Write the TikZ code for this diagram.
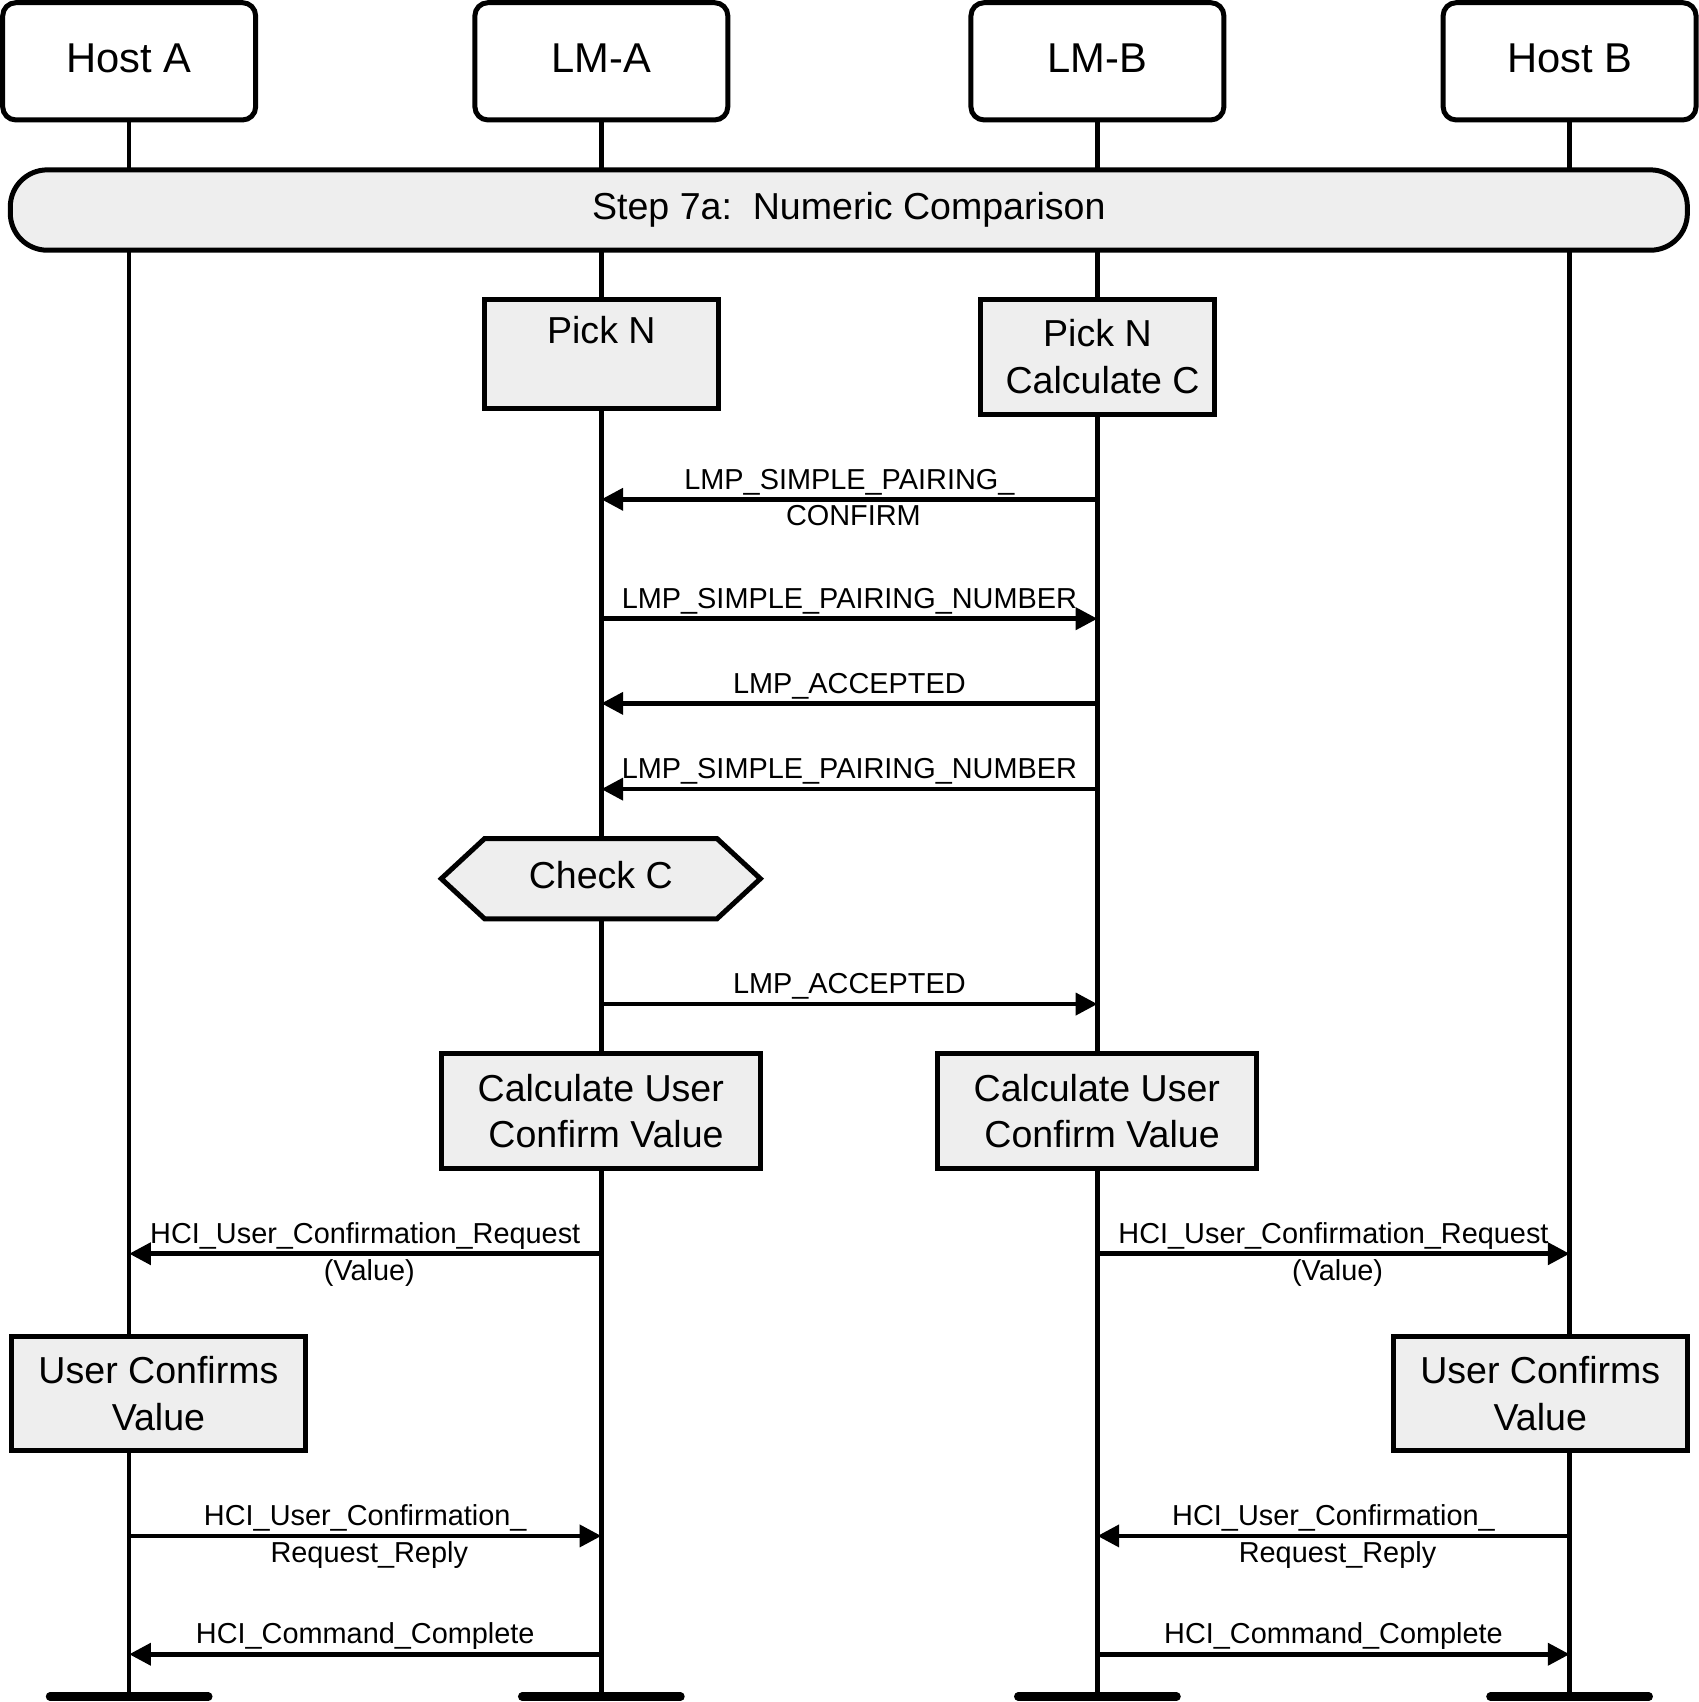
\documentclass[tikz,border=0pt]{standalone}
\usepackage{fontspec}
\setmainfont{Liberation Sans}
\usetikzlibrary{arrows.meta,calc,backgrounds}
\definecolor{boxfill}{RGB}{238,238,238}
\begin{document}
\begin{tikzpicture}[x=0.5pt,y=-0.5pt,
  hdr/.style={draw, line width=2.3pt, rounded corners=6pt, fill=white,
    minimum width=116.5pt, minimum height=54pt, inner sep=0pt,
    font=\fontsize{19.2}{21.5}\selectfont, text height=10.3pt, text depth=0pt},
  act/.style={draw, line width=2.3pt, fill=boxfill, inner sep=0pt, align=center,
    font=\fontsize{17.3}{21.5}\selectfont},
  life/.style={line width=2pt},
  msg/.style={line width=2.1pt, -{Triangle[length=10pt,width=10pt]}},
  lab/.style={font=\fontsize{13.3}{15}\selectfont, inner sep=0pt, anchor=base},
  endbar/.style={line width=3.8pt, line cap=round}
]
\useasboundingbox (0,0) rectangle (1565,1568);

% headers
\node[hdr] (hA) at (119,56.5) {Host A};
\node[hdr] (lA) at (554,56.5) {LM-A};
\node[hdr] (lB) at (1011,56.5) {LM-B};
\node[hdr] (hB) at (1446,56.5) {Host B};

% ends of lifelines
\coordinate (eA) at (119,1563);
\coordinate (eLA) at (554,1563);
\coordinate (eLB) at (1011,1563);
\coordinate (eB) at (1446,1563);

\begin{scope}[on background layer]
  \draw[life] (hA.south) -- (eA);
  \draw[life] (lA.south) -- (eLA);
  \draw[life] (lB.south) -- (eLB);
  \draw[life] (hB.south) -- (eB);
\end{scope}

\foreach \e in {eA,eLA,eLB,eB}
  \draw[endbar] ([xshift=-36.5pt]\e) -- ([xshift=36.5pt]\e);

% step bar
\node[draw, line width=2.3pt, rounded corners=17pt, fill=boxfill,
  minimum width=772.5pt, minimum height=37pt, inner sep=0pt,
  font=\fontsize{17.3}{20}\selectfont, text height=8.9pt, text depth=0pt]
  (step) at (782,193.5) {Step 7a:\ \ Numeric Comparison};

% action boxes
\node[act, minimum width=107.5pt, minimum height=50.5pt] (pnA) at (554,326) {Pick N\\\phantom{C}};
\node[act, minimum width=107.5pt, minimum height=53pt] (pnB) at (1011,328.5) {Pick N\\\hspace*{4.8pt}Calculate C};

% check C hexagon
\node[inner sep=0pt, outer sep=0pt, minimum width=147pt, minimum height=37pt,
  font=\fontsize{17.3}{20}\selectfont, text height=8.9pt, text depth=0pt]
  (chk) at (553.5,809.5) {Check C};
\begin{scope}[on background layer]
  \draw[line width=2.3pt, fill=boxfill, line join=miter]
    (chk.west) -- ([xshift=20pt]chk.north west) -- ([xshift=-20pt]chk.north east)
    -- (chk.east) -- ([xshift=-20pt]chk.south east) -- ([xshift=20pt]chk.south west) -- cycle;
\end{scope}

\node[act, minimum width=147pt, minimum height=53pt] (cuA) at (553.5,1023.5) {Calculate User\\\hspace*{4.8pt}Confirm Value};
\node[act, minimum width=147pt, minimum height=53pt] (cuB) at (1010.5,1023.5) {Calculate User\\\hspace*{4.8pt}Confirm Value};

\node[act, minimum width=135.5pt, minimum height=52.5pt] (ucA) at (146,1284) {User Confirms\\Value};
\node[act, minimum width=135.5pt, minimum height=52.5pt] (ucB) at (1419,1284) {User Confirms\\Value};

% message rows
\path (0,460) coordinate (r1) (0,570) coordinate (r2) (0,648) coordinate (r3)
      (0,727) coordinate (r4) (0,925) coordinate (r5) (0,1155) coordinate (r6)
      (0,1415) coordinate (r7) (0,1524) coordinate (r8);

\draw[msg] (lB |- r1) -- (lA |- r1) coordinate[midway] (c1);
\node[lab, yshift=4.75pt] (t1a) at (c1) {LMP\_SIMPLE\_PAIRING\_};
\node[lab, yshift=-12.25pt, xshift=1.85pt] (t1b) at (c1) {CONFIRM};

\draw[msg] (lA |- r2) -- (lB |- r2) coordinate[midway] (c2);
\node[lab, yshift=4.75pt] (t2) at (c2) {LMP\_SIMPLE\_PAIRING\_NUMBER};

\draw[msg] (lB |- r3) -- (lA |- r3) coordinate[midway] (c3);
\node[lab, yshift=4.75pt] (t3) at (c3) {LMP\_ACCEPTED};

\draw[msg] (lB |- r4) -- (lA |- r4) coordinate[midway] (c4);
\node[lab, yshift=4.75pt] (t4) at (c4) {LMP\_SIMPLE\_PAIRING\_NUMBER};

\draw[msg] (lA |- r5) -- (lB |- r5) coordinate[midway] (c5);
\node[lab, yshift=4.75pt] (t5) at (c5) {LMP\_ACCEPTED};

\draw[msg] (lA |- r6) -- (hA |- r6) coordinate[midway] (c6);
\node[lab, yshift=4.75pt] (t6a) at (c6) {HCI\_User\_Confirmation\_Request};
\node[lab, yshift=-12.25pt, xshift=1.85pt] (t6b) at (c6) {(Value)};

\draw[msg] (lB |- r6) -- (hB |- r6) coordinate[midway] (d6);
\node[lab, yshift=4.75pt] (u6a) at (d6) {HCI\_User\_Confirmation\_Request};
\node[lab, yshift=-12.25pt, xshift=1.85pt] (u6b) at (d6) {(Value)};

\draw[msg] (hA |- r7) -- (lA |- r7) coordinate[midway] (c7);
\node[lab, yshift=4.75pt] (t7a) at (c7) {HCI\_User\_Confirmation\_};
\node[lab, yshift=-12.25pt, xshift=1.85pt] (t7b) at (c7) {Request\_Reply};

\draw[msg] (hB |- r7) -- (lB |- r7) coordinate[midway] (d7);
\node[lab, yshift=4.75pt] (u7a) at (d7) {HCI\_User\_Confirmation\_};
\node[lab, yshift=-12.25pt, xshift=1.85pt] (u7b) at (d7) {Request\_Reply};

\draw[msg] (lA |- r8) -- (hA |- r8) coordinate[midway] (c8);
\node[lab, yshift=4.75pt] (t8) at (c8) {HCI\_Command\_Complete};

\draw[msg] (lB |- r8) -- (hB |- r8) coordinate[midway] (d8);
\node[lab, yshift=4.75pt] (u8) at (d8) {HCI\_Command\_Complete};
\end{tikzpicture}
\end{document}
